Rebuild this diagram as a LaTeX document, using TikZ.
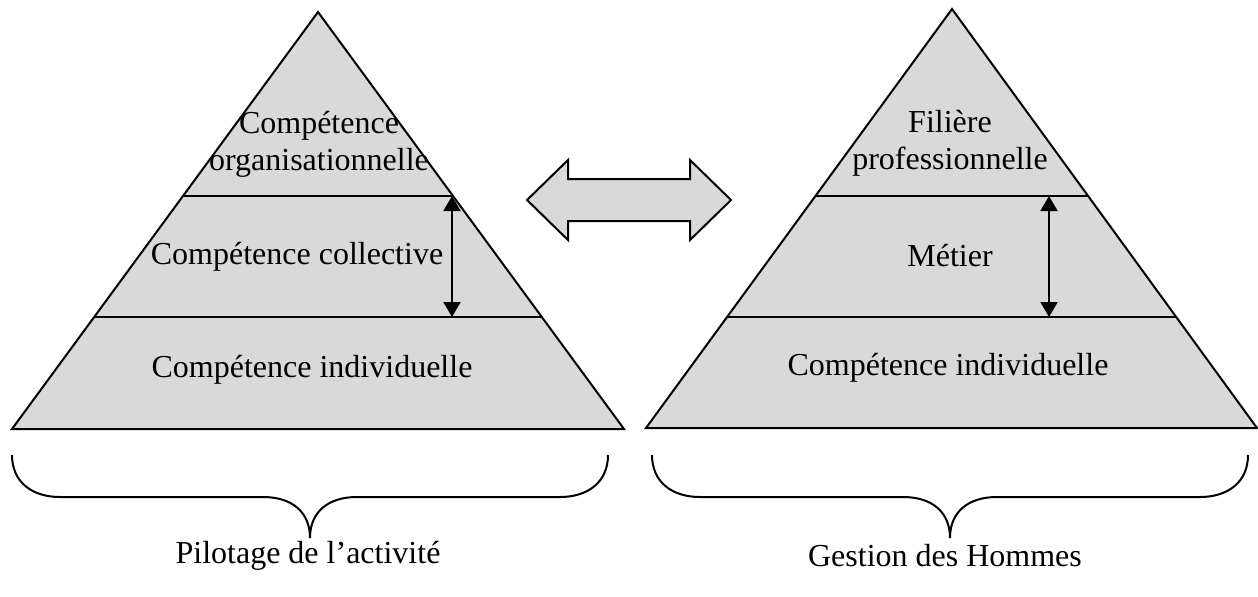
\documentclass[tikz,border=0pt]{standalone}
\usepackage{fontspec}
\setmainfont{Liberation Serif}
\usetikzlibrary{arrows.meta, calc, positioning}
\definecolor{pyrgrey}{RGB}{217, 217, 217}

\tikzset{
    pyramid/.style={draw, fill=pyrgrey, line width=1pt, line join=miter},
    level/.style={draw, line width=1pt},
    span/.style={line width=1pt, {Triangle[width=8.5pt, length=7.5pt]}-{Triangle[width=8.5pt, length=7.5pt]}},
    curly/.style={draw, line width=1pt},
    lbl/.style={font=\fontsize{16}{17.5}\selectfont, inner sep=0pt, align=center}
}

\begin{document}
\begin{tikzpicture}[x=0.5pt, y=-0.5pt]
    \useasboundingbox (0, 0) rectangle (1258, 596);

    % left pyramid
    \coordinate (Ltop) at (318, 12);
    \coordinate (Lbl) at (12, 429);
    \coordinate (Lbr) at (624, 429);
    \path[pyramid] (Ltop) -- (Lbl) -- (Lbr) -- cycle;
    \coordinate (Lal) at ($(Ltop)!0.4412!(Lbl)$);
    \coordinate (Lar) at ($(Ltop)!0.4412!(Lbr)$);
    \coordinate (Lbl2) at ($(Ltop)!0.7314!(Lbl)$);
    \coordinate (Lbr2) at ($(Ltop)!0.7314!(Lbr)$);
    \draw[level] (Lal) -- (Lar);
    \draw[level] (Lbl2) -- (Lbr2);
    \coordinate (La) at (452, 196);
    \coordinate (Lb) at (452, 317);
    \draw[span] (La) -- (Lb);

    \node[lbl] (Lorg) at (319, 144) {Compétence\\[1pt]organisationnelle};
    \node[lbl] (Lcoll) at (297, 257) {Compétence collective};
    \node[lbl] (Lind) at (312, 370) {Compétence individuelle};

    % right pyramid
    \coordinate (Rtop) at (952, 9);
    \coordinate (Rbl) at (646, 428);
    \coordinate (Rbr) at (1257, 428);
    \path[pyramid] (Rtop) -- (Rbl) -- (Rbr) -- cycle;
    \coordinate (Ral) at ($(Rtop)!0.4463!(Rbl)$);
    \coordinate (Rar) at ($(Rtop)!0.4463!(Rbr)$);
    \coordinate (Rbl2) at ($(Rtop)!0.7351!(Rbl)$);
    \coordinate (Rbr2) at ($(Rtop)!0.7351!(Rbr)$);
    \draw[level] (Ral) -- (Rar);
    \draw[level] (Rbl2) -- (Rbr2);
    \coordinate (Ra) at (1049, 196);
    \coordinate (Rb) at (1049, 317);
    \draw[span] (Ra) -- (Rb);

    \node[lbl] (Rfil) at (950, 143) {Filière\\[1pt]professionnelle};
    \node[lbl] (Rmet) at (950, 256) {Métier};
    \node[lbl] (Rind) at (948, 368) {Compétence individuelle};

    % double arrow
    \path[pyramid] (527, 200) -- (568, 160) -- (568, 179) -- (690, 179) -- (690, 160)
        -- (731, 200) -- (690, 240) -- (690, 221) -- (568, 221) -- (568, 240) -- cycle;

    % braces
    \draw[curly] (12, 455) .. controls (12, 482) and (32, 497) .. (60, 497) -- (263, 497)
        .. controls (292, 497) and (310, 512) .. (310, 538)
        .. controls (310, 512) and (328, 497) .. (357, 497) -- (560, 497)
        .. controls (588, 497) and (608, 482) .. (608, 455);
    \draw[curly] (652, 455) .. controls (652, 482) and (672, 497) .. (700, 497) -- (903, 497)
        .. controls (932, 497) and (950, 512) .. (950, 538)
        .. controls (950, 512) and (968, 497) .. (997, 497) -- (1200, 497)
        .. controls (1228, 497) and (1248, 482) .. (1248, 455);

    \node[lbl] (Lpil) at (308, 556) {Pilotage de l’activité};
    \node[lbl] (Rges) at (945, 556) {Gestion des Hommes};
\end{tikzpicture}
\end{document}
